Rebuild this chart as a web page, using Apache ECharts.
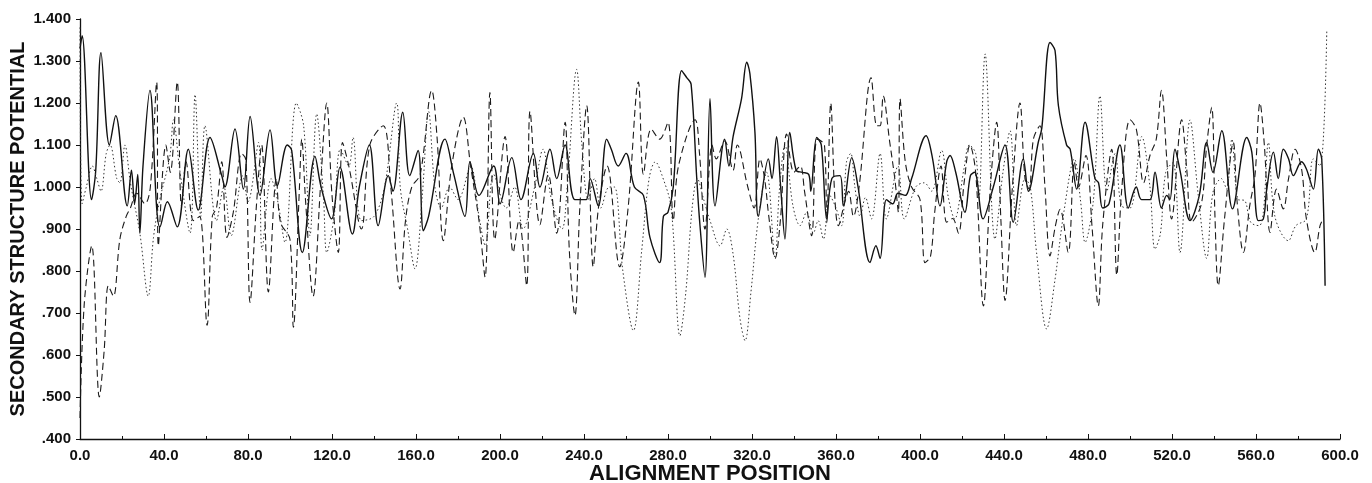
<!DOCTYPE html>
<html>
<head>
<meta charset="utf-8">
<script src="https://cdn.jsdelivr.net/npm/echarts@6/dist/echarts.min.js"></script>
<style>
  html, body { margin: 0; padding: 0; background: #fff; }
  #chart { width: 1372px; height: 483px; }
</style>
</head>
<body>
<div id="chart"></div>
<script>
// Turning points (alignment position, potential).
const solidX = [0, 1, 5.5, 7.5, 10, 14, 17, 22.5, 24.5, 26, 27.5, 28.5, 30, 33.3, 36.5, 38, 41.6, 46.3, 51.6, 56.3,
  61.9, 67.5, 69, 73.8, 77.8, 81, 85.7, 90.5, 94, 98.7, 100.8, 105.9, 111.9, 114.8, 119.8, 123.8, 129.7, 133, 137.8, 142,
  146.8, 149, 153.7, 157, 161, 163.5, 166, 173.8, 178, 183.3, 185.7, 190, 197, 200, 205.6, 210, 215.9, 219, 223.8, 227,
  231, 235.7, 241, 242.9, 246.8, 250.8, 253, 256.3, 260, 264, 268.3, 271.4, 276, 277.8, 280, 282.5, 286.5, 289, 291, 293.7,
  295.2, 297.6, 300, 302.4, 307, 309, 311, 315, 317.5, 319, 321.4, 323, 327.8, 329.5, 331.7, 333.5, 335.7, 338, 341, 344,
  347, 348, 350.8, 353, 355.6, 358, 361.9, 363.5, 367.5, 370.5, 376.2, 379, 381, 384, 387, 389.5, 393, 396, 402.9, 406,
  409.5, 412.7, 414.3, 417, 421.4, 424, 426, 430, 434.9, 440.5, 444.4, 449.2, 451.6, 456.3, 458, 461.9, 464.3, 465.9, 469.8, 471.5,
  474.6, 478.6, 483.3, 485, 487, 490, 495.2, 499.2, 503, 505.5, 509.5, 511.9, 515, 517.5, 519, 521.4, 524, 528.6, 533, 536.5,
  539.5, 543.7, 548.8, 555.6, 558, 561.1, 563.5, 565, 568.3, 570.6, 573, 575.5, 577.8, 581.7, 584, 587.3, 589.7, 591.3, 592.9];
const solidY = [1.33, 1.36, 0.97, 1.04, 1.32, 1.10, 1.17, 0.955, 1.04, 0.96, 1.03, 0.89, 1.05, 1.23, 0.95, 0.905, 0.965, 0.905, 1.09, 0.945,
  1.118, 1.027, 1.0, 1.138, 0.995, 1.168, 0.98, 1.136, 1.003, 1.10, 1.087, 0.844, 1.073, 1.0, 0.924, 1.047, 0.888, 1.0, 1.10, 0.908,
  1.027, 0.99, 1.178, 1.027, 1.087, 0.896, 0.93, 1.114, 1.03, 0.93, 1.06, 0.98, 1.05, 0.96, 1.07, 0.97, 1.08, 1.0, 1.09, 1.02,
  1.10, 0.97, 0.97, 1.02, 0.955, 1.114, 1.09, 1.05, 1.08, 1.0, 0.98, 0.88, 0.82, 0.93, 0.94, 1.0, 1.277, 1.26, 1.245, 1.02,
  0.91, 0.785, 1.21, 0.955, 1.114, 1.05, 1.12, 1.21, 1.297, 1.27, 1.13, 0.93, 1.067, 1.02, 1.12, 1.01, 0.876, 1.13, 1.04, 1.035,
  1.03, 0.99, 1.118, 1.10, 0.924, 1.02, 1.027, 0.955, 1.07, 1.0, 0.82, 0.86, 0.83, 0.97, 0.96, 0.985, 0.98, 1.02, 1.122, 1.067,
  0.955, 1.06, 1.075, 1.035, 0.94, 1.027, 1.035, 0.924, 1.0, 1.1, 0.916, 1.067, 0.99, 1.106, 1.14, 1.344, 1.325, 1.194, 1.10, 1.09,
  0.995, 1.154, 1.02, 1.01, 0.95, 0.96, 1.10, 0.95, 1.0, 0.97, 0.97, 1.035, 0.95, 0.98, 0.97, 1.09, 1.035, 0.92, 0.98, 1.106,
  1.035, 1.134, 0.948, 1.118, 1.083, 0.92, 0.924, 0.99, 1.083, 1.02, 1.09, 1.067, 1.027, 1.06, 1.043, 0.995, 1.09, 1.067, 0.765];

const dashX = [0, 2, 5.6, 9.2, 11.5, 13.5, 15.9, 19, 22, 24, 27, 30.9, 33.5, 36.5, 37.3, 40.9, 43, 46.3, 48.3, 50.5,
  54, 57, 60.5, 63, 65, 67.5, 70, 73, 77, 79, 81, 84, 86.5, 89.7, 93.5, 95.5, 100, 101.6, 104.5, 105.6,
  107.5, 111, 114.5, 117.5, 120, 123, 125, 128, 134, 138, 144.4, 148, 152.4, 155, 158, 162, 167.5, 170, 173, 177,
  182.5, 186, 190, 192.9, 195.2, 197.5, 202.4, 206.3, 209, 212.7, 214.3, 219, 223, 227, 231, 233, 235.7, 238, 241.3, 244.4,
  247, 251, 257, 261, 265.9, 268.3, 272, 276, 280, 282.5, 285, 292.9, 295, 297.6, 301, 303, 307, 311, 313, 318,
  321, 323.8, 326, 328, 331, 333.5, 336.5, 340, 343, 345, 348.4, 351, 354.5, 355.6, 357.5, 359.5, 361.1, 364, 366, 368.3,
  371, 376.7, 379.4, 381, 382.5, 385.5, 388, 389.7, 390.5, 393, 396, 400, 402.4, 405, 407, 410, 412.7, 415.5, 418.3, 421,
  423.8, 426.5, 430.2, 433.5, 436.5, 438.5, 440.5, 444, 447.6, 450, 452, 454, 457.1, 459.5, 461.9, 464.5, 466.7, 470.6, 473.5, 475.5,
  479, 482, 484.9, 487, 491.3, 493.7, 496, 500, 503, 506.5, 509.5, 512.5, 515, 517.5, 519.8, 524.6, 527, 529.4, 534, 536.5,
  538.9, 540.5, 542, 545, 549.2, 551, 554, 557, 559.5, 561.9, 564, 566.7, 569.8, 573, 575.5, 578.6, 581.7, 584, 588, 590.5, 592];
const dashY = [0.45, 0.72, 0.86, 0.50, 0.61, 0.765, 0.74, 0.876, 0.93, 0.95, 0.985, 0.96, 1.0, 1.25, 0.86, 1.10, 1.035, 1.25, 0.955, 1.06,
  0.92, 0.93, 0.671, 0.93, 0.95, 1.06, 0.88, 0.94, 1.08, 1.065, 0.725, 0.955, 1.1, 0.75, 1.02, 0.915, 0.875, 0.666, 1.0, 1.114,
  0.96, 0.74, 1.0, 1.2, 0.98, 0.844, 1.106, 1.05, 0.9, 1.1, 1.146, 1.0, 0.757, 0.92, 1.0, 1.03, 1.23, 1.12, 0.872, 1.05,
  1.166, 1.05, 0.92, 0.785, 1.225, 0.875, 1.12, 0.844, 0.92, 0.765, 1.18, 0.91, 1.03, 0.89, 1.154, 0.85, 0.694, 0.95, 1.194, 0.81,
  0.955, 1.05, 0.81, 0.95, 1.25, 1.03, 1.138, 1.114, 1.154, 0.92, 1.05, 1.16, 1.08, 0.9, 1.1, 1.067, 1.11, 1.04, 1.10, 1.0,
  0.95, 1.067, 1.02, 0.93, 0.83, 0.92, 1.126, 1.035, 1.05, 0.99, 0.884, 1.114, 1.10, 0.915, 1.2, 0.97, 0.908, 0.96, 0.99, 0.93,
  1.0, 1.26, 1.146, 1.146, 1.217, 1.11, 1.02, 0.94, 1.21, 1.06, 1.0, 0.97, 0.82, 0.835, 0.94, 1.05, 0.916, 0.925, 0.89, 1.01,
  1.1, 1.035, 0.717, 1.0, 1.154, 0.924, 0.73, 1.0, 1.2, 1.02, 0.995, 1.114, 1.146, 1.0, 0.836, 0.908, 0.947, 0.844, 1.06, 1.0,
  1.075, 0.9, 0.717, 0.91, 1.09, 0.79, 0.99, 1.16, 1.138, 1.01, 1.075, 1.114, 1.23, 1.067, 0.924, 1.16, 1.043, 0.916, 0.96, 1.098,
  1.19, 0.924, 0.765, 0.924, 1.106, 0.965, 0.844, 0.955, 1.027, 1.2, 1.098, 0.892, 0.995, 0.948, 1.02, 1.09, 1.043, 0.924, 0.844, 0.908, 0.924];

const dotX = [0, 1, 3, 5.9, 8, 10, 12.5, 14.3, 17.5, 19, 21.4, 24, 28.5, 32.5, 35, 38, 42.7, 44.5, 47.5, 52.4,
  54.8, 57.5, 59.5, 65, 68.5, 72, 77.5, 80, 85, 86.7, 91, 94, 97.6, 103, 106.5, 109.5, 112.7, 116, 117.5, 121,
  124, 128, 130, 134, 140, 145, 150.8, 152.5, 156, 159.5, 163, 166, 169, 172, 176, 180, 186, 190, 193, 197,
  203, 207, 211, 216.5, 220.5, 224.5, 229.5, 232, 236.5, 239, 242, 245, 248, 252, 254.5, 258.5, 263.5, 267.5, 271, 274,
  277, 281.5, 285.7, 288.5, 291.5, 294, 297, 300, 304.8, 308, 311, 314.3, 316.7, 319.5, 323, 327, 331, 333, 335.7, 339.5,
  342.9, 346, 349.2, 351.5, 354, 357, 360, 362.7, 365, 367, 369, 371.5, 374, 376.9, 381, 384, 389.5, 392.5, 398, 402,
  405.5, 410.3, 413.5, 416.5, 421, 423.5, 426.5, 428, 431, 435.7, 439.5, 442.9, 446, 450, 452.5, 455.5, 460.3, 464.3, 468.5, 473.5,
  476.5, 478.6, 482.5, 485.7, 489, 492.9, 496, 500, 505.6, 509.5, 511.9, 514.5, 517, 520.5, 523.8, 528.6, 532.5, 536.5, 539.5, 543.5,
  546, 548.5, 551.5, 554.5, 557.5, 561.5, 563.5, 565.9, 569, 575.4, 579, 584, 587.3, 590.5, 593.7];
const dotY = [1.38, 0.96, 1.0, 1.05, 1.02, 0.99, 1.08, 1.1, 1.02, 1.01, 1.1, 1.01, 0.89, 0.74, 0.88, 0.97, 1.07, 1.16, 1.04, 0.89,
  1.22, 0.93, 1.146, 0.92, 1.0, 0.884, 1.027, 0.965, 1.106, 0.85, 1.02, 0.97, 0.868, 1.2, 1.146, 0.884, 1.174, 0.97, 0.844, 0.93,
  1.09, 1.05, 1.118, 0.92, 0.93, 1.0, 1.2, 1.0, 0.9, 0.805, 0.98, 1.18, 1.0, 0.95, 1.0, 0.97, 1.05, 0.93, 0.86, 1.03,
  0.95, 1.0, 0.9, 1.0, 1.09, 0.97, 0.9, 1.0, 1.28, 1.1, 0.97, 1.02, 0.95, 1.0, 1.0, 0.8, 0.658, 0.85, 1.02, 1.06,
  1.03, 0.95, 0.646, 0.75, 0.95, 1.02, 0.97, 0.92, 0.86, 0.9, 0.84, 0.686, 0.634, 0.75, 0.924, 1.035, 0.83, 0.99, 1.1, 0.955,
  0.908, 0.94, 0.89, 0.92, 0.876, 0.98, 0.95, 0.908, 1.06, 1.08, 1.0, 0.93, 0.975, 0.924, 1.08, 0.924, 1.05, 0.924, 1.0, 1.01,
  0.99, 1.087, 0.975, 0.924, 1.045, 1.1, 1.08, 0.97, 1.317, 0.876, 1.035, 1.134, 0.908, 1.02, 1.0, 0.844, 0.662, 0.78, 0.94, 1.067,
  0.965, 0.868, 0.965, 1.217, 0.99, 1.08, 0.955, 0.95, 1.12, 1.0, 0.852, 0.89, 1.035, 1.058, 0.844, 1.16, 0.98, 0.83, 0.987, 1.02,
  0.995, 1.114, 0.97, 0.968, 0.916, 0.908, 0.94, 1.106, 0.93, 0.872, 0.908, 0.924, 1.067, 1.05, 1.37];

const xTicks = { min: 0, max: 600, step: 40 };
const yTicks = { min: 0.4, max: 1.4, step: 0.1 };

const zip = (xs, ys) => xs.map((x, i) => [x, ys[i]]);
const font = "'Liberation Sans', Arial, sans-serif";

const chart = echarts.init(document.getElementById("chart"), null, { renderer: "canvas" });

const trace = (name, xs, ys, type, width, color) => ({
  name,
  type: "line",
  data: zip(xs, ys),
  smooth: 0.35,
  showSymbol: false,
  animation: false,
  lineStyle: { color, width, type },
});

chart.setOption({
  backgroundColor: "#fff",
  animation: false,
  // fixed plot box; v6 would otherwise shrink it to keep the big labels inside
  grid: { left: 80, right: 32, top: 19, bottom: 44, outerBoundsMode: "none", containLabel: false },
  xAxis: {
    type: "value",
    min: xTicks.min, max: xTicks.max, interval: xTicks.step,
    name: "ALIGNMENT POSITION",
    nameLocation: "middle",
    nameGap: 24,
    nameMoveOverlap: false,
    nameTextStyle: { fontFamily: font, fontSize: 22, fontWeight: "bold", color: "#111" },
    axisLine: { lineStyle: { color: "#111", width: 1.3 } },
    axisTick: { inside: true, length: 5, lineStyle: { color: "#111" } },
    minorTick: { show: true, splitNumber: 2, length: 3, lineStyle: { color: "#111" } },
    splitLine: { show: false },
    axisLabel: {
      margin: 9, fontFamily: font, fontSize: 15, fontWeight: "bold", color: "#111",
      formatter: (v) => v.toFixed(1),
    },
  },
  yAxis: {
    type: "value",
    min: yTicks.min, max: yTicks.max, interval: yTicks.step,
    name: "SECONDARY STRUCTURE POTENTIAL",
    nameLocation: "middle",
    nameGap: 52,
    nameMoveOverlap: false,
    nameTextStyle: { fontFamily: font, fontSize: 20, fontWeight: "bold", color: "#111" },
    axisLine: { show: true, lineStyle: { color: "#111", width: 1.3 } },
    axisTick: { show: true, length: 4, lineStyle: { color: "#111" } },
    splitLine: { show: false },
    axisLabel: {
      margin: 9, fontFamily: font, fontSize: 15, fontWeight: "bold", color: "#111",
      formatter: (v) => (v < 1 ? v.toFixed(3).slice(1) : v.toFixed(3)),
    },
  },
  series: [
    trace("solid", solidX, solidY, "solid", 1.4, "#111"),
    trace("dashed", dashX, dashY, [7, 4], 1.1, "#1a1a1a"),
    trace("dotted", dotX, dotY, [1.5, 2.5], 1.0, "#333"),
  ],
});
</script>
</body>
</html>
